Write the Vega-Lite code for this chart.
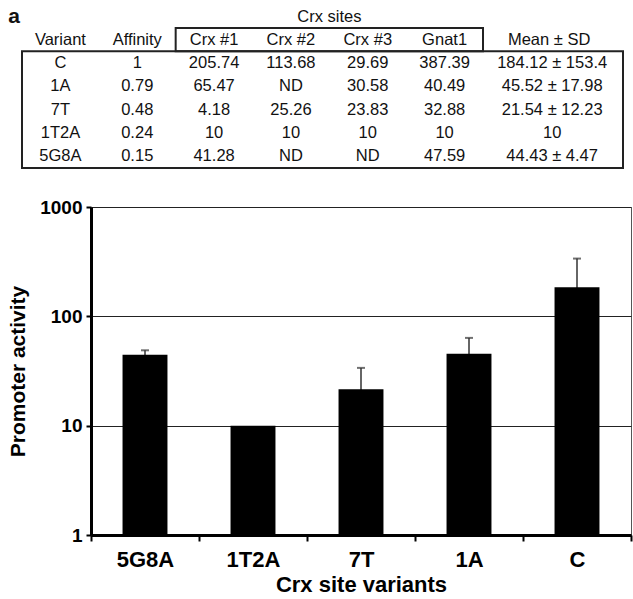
{
  "$schema": "https://vega.github.io/schema/vega-lite/v6.json",
  "padding": {"left": 7, "top": 6, "right": 0, "bottom": 0},
  "config": {
    "font": "Liberation Sans",
    "text": {"font": "Liberation Sans"},
    "axis": {"labelFont": "Liberation Sans", "titleFont": "Liberation Sans"}
  },
  "datasets": {
    "table": [
      {"Variant": "C", "Affinity": "1", "Crx #1": "205.74", "Crx #2": "113.68", "Crx #3": "29.69", "Gnat1": "387.39", "Mean ± SD": "184.12 ± 153.4", "mean": 184.12, "sd": 153.4},
      {"Variant": "1A", "Affinity": "0.79", "Crx #1": "65.47", "Crx #2": "ND", "Crx #3": "30.58", "Gnat1": "40.49", "Mean ± SD": "45.52 ± 17.98", "mean": 45.52, "sd": 17.98},
      {"Variant": "7T", "Affinity": "0.48", "Crx #1": "4.18", "Crx #2": "25.26", "Crx #3": "23.83", "Gnat1": "32.88", "Mean ± SD": "21.54 ± 12.23", "mean": 21.54, "sd": 12.23},
      {"Variant": "1T2A", "Affinity": "0.24", "Crx #1": "10", "Crx #2": "10", "Crx #3": "10", "Gnat1": "10", "Mean ± SD": "10", "mean": 10, "sd": 0},
      {"Variant": "5G8A", "Affinity": "0.15", "Crx #1": "41.28", "Crx #2": "ND", "Crx #3": "ND", "Gnat1": "47.59", "Mean ± SD": "44.43 ± 4.47", "mean": 44.43, "sd": 4.47}
    ]
  },
  "vconcat": [
    {
      "width": 532,
      "height": 140,
      "view": {"stroke": null},
      "data": {"name": "table"},
      "layer": [
        {
          "transform": [{"fold": ["Variant", "Affinity", "Crx #1", "Crx #2", "Crx #3", "Gnat1"], "as": ["col", "val"]}],
          "mark": {"type": "text", "fontSize": 16.5, "color": "#111", "baseline": "middle"},
          "encoding": {
            "x": {"field": "col", "type": "nominal", "bandPosition": 0.5, "axis": null,
              "scale": {"type": "band", "domain": ["Variant", "Affinity", "Crx #1", "Crx #2", "Crx #3", "Gnat1", "Mean ± SD"], "range": [-69, 532], "paddingInner": 0, "paddingOuter": 0.411, "align": 0}},
            "y": {"field": "Variant", "type": "nominal", "bandPosition": 0.5, "axis": null,
              "scale": {"type": "band", "domain": ["header", "C", "1A", "7T", "1T2A", "5G8A"], "paddingInner": 0, "paddingOuter": 0}},
            "text": {"field": "val", "type": "nominal"}
          }
        },
        {
          "transform": [
            {"fold": ["Variant", "Affinity", "Crx #1", "Crx #2", "Crx #3", "Gnat1"], "as": ["col", "val"]},
            {"aggregate": [{"op": "count", "as": "n"}], "groupby": ["col"]}
          ],
          "mark": {"type": "text", "fontSize": 16.5, "color": "#111", "baseline": "middle"},
          "encoding": {
            "x": {"field": "col", "type": "nominal", "bandPosition": 0.5},
            "y": {"datum": "header", "type": "nominal", "bandPosition": 0.5},
            "text": {"field": "col", "type": "nominal"}
          }
        },
        {
          "mark": {"type": "text", "fontSize": 16.5, "color": "#111", "baseline": "middle"},
          "encoding": {
            "x": {"datum": "Mean ± SD", "type": "nominal", "bandPosition": 0.9},
            "y": {"field": "Variant", "type": "nominal", "bandPosition": 0.5},
            "text": {"field": "Mean ± SD", "type": "nominal"}
          }
        },
        {
          "data": {"values": [{"label": "Mean ± SD"}]},
          "mark": {"type": "text", "fontSize": 16.5, "color": "#111", "baseline": "middle"},
          "encoding": {
            "x": {"datum": "Mean ± SD", "type": "nominal", "bandPosition": 0.86},
            "y": {"datum": "header", "type": "nominal", "bandPosition": 0.5},
            "text": {"field": "label", "type": "nominal"}
          }
        },
        {
          "data": {"values": [{"label": "Crx sites"}]},
          "mark": {"type": "text", "fontSize": 16.5, "color": "#111", "baseline": "middle", "dy": -11},
          "encoding": {
            "x": {"datum": "Crx #3", "type": "nominal", "bandPosition": 0},
            "y": {"datum": "header", "type": "nominal", "bandPosition": 0},
            "text": {"field": "label", "type": "nominal"}
          }
        },
        {
          "data": {"values": [{"label": "a"}]},
          "mark": {"type": "text", "fontSize": 21, "fontWeight": "bold", "color": "#111", "baseline": "middle", "dy": -11, "dx": -8},
          "encoding": {
            "x": {"datum": "Variant", "type": "nominal", "bandPosition": 0},
            "y": {"datum": "header", "type": "nominal", "bandPosition": 0},
            "text": {"field": "label", "type": "nominal"}
          }
        },
        {
          "data": {"values": [{}]},
          "mark": {"type": "rect", "fill": null, "stroke": "#222", "strokeWidth": 2},
          "encoding": {
            "x": {"datum": "Variant", "type": "nominal", "bandPosition": 0},
            "x2": {"value": "width"},
            "y": {"datum": "C", "type": "nominal", "bandPosition": 0},
            "y2": {"value": "height"}
          }
        },
        {
          "data": {"values": [{}]},
          "mark": {"type": "rect", "fill": null, "stroke": "#222", "strokeWidth": 2},
          "encoding": {
            "x": {"datum": "Crx #1", "type": "nominal", "bandPosition": 0},
            "x2": {"datum": "Gnat1", "bandPosition": 1},
            "y": {"datum": "header", "type": "nominal", "bandPosition": 0},
            "y2": {"datum": "header", "bandPosition": 1}
          }
        }
      ]
    },
    {
      "width": 540,
      "height": 328,
      "view": {"stroke": "#555", "strokeWidth": 1},
      "data": {"name": "table"},
      "encoding": {
        "x": {"field": "Variant", "type": "nominal", "sort": ["5G8A", "1T2A", "7T", "1A", "C"],
          "scale": {"type": "band", "paddingInner": 0, "paddingOuter": 0},
          "axis": {"title": "Crx site variants", "labelAngle": 0, "tickBand": "extent", "tickSize": 6, "tickWidth": 2, "tickColor": "#000",
            "domainWidth": 3, "domainColor": "#000", "labelFontSize": 22, "labelFontWeight": "bold", "labelColor": "#000", "labelPadding": 8,
            "titleFontSize": 22, "titleFontWeight": "bold", "titleColor": "#000", "titlePadding": 4, "grid": false}},
        "y": {"field": "mean", "type": "quantitative",
          "scale": {"type": "log", "domain": [1, 1000]},
          "axis": {"title": "Promoter activity", "values": [1, 10, 100, 1000], "format": "d", "grid": true, "gridColor": "#222", "gridWidth": 1,
            "domainWidth": 3, "domainColor": "#000", "tickSize": 5, "tickWidth": 2, "tickColor": "#000",
            "labelFontSize": 19, "labelFontWeight": "bold", "labelColor": "#000", "labelPadding": 4,
            "titleFontSize": 21, "titleFontWeight": "bold", "titleColor": "#000", "titlePadding": 11}}
      },
      "layer": [
        {
          "transform": [{"filter": "datum.sd > 0"}],
          "mark": {"type": "errorbar", "ticks": {"size": 8, "color": "#333", "thickness": 2}, "rule": {"color": "#333", "strokeWidth": 1.5}},
          "encoding": {
            "yError": {"field": "sd"}
          }
        },
        {
          "mark": {"type": "bar", "color": "#000", "width": {"band": 0.416}},
          "encoding": {
            "y2": {"datum": 1}
          }
        },
        {
          "data": {"values": [{}]},
          "mark": {"type": "rule", "color": "#000", "strokeWidth": 3},
          "encoding": {
            "x": null,
            "y": {"datum": 1000, "type": "quantitative"}
          }
        },
        {
          "data": {"values": [{"label": "b"}]},
          "mark": {"type": "text", "fontSize": 22, "fontWeight": "bold", "color": "#000", "baseline": "middle", "dx": -76, "dy": 2},
          "encoding": {
            "x": {"datum": "5G8A", "type": "nominal", "bandPosition": 0},
            "y": {"datum": 1000, "type": "quantitative"},
            "text": {"field": "label", "type": "nominal"}
          }
        }
      ]
    }
  ],
  "spacing": 28
}
